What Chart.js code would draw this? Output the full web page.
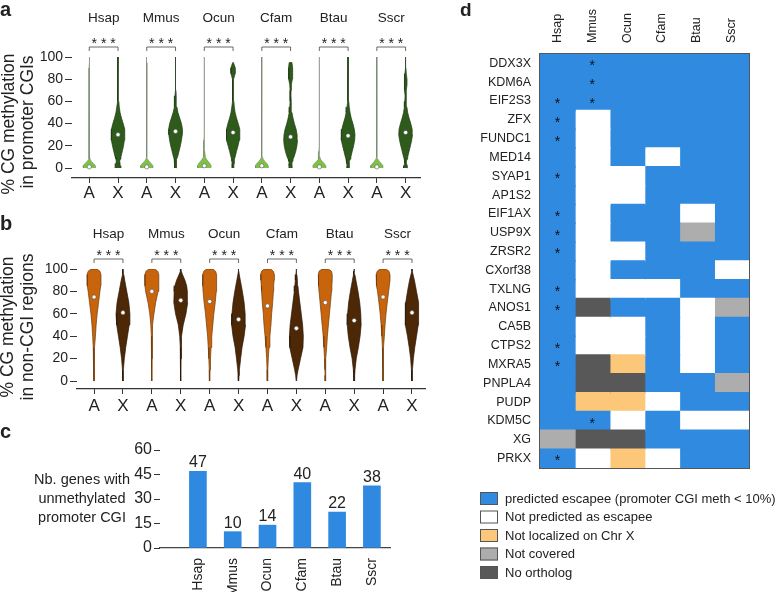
<!DOCTYPE html>
<html>
<head>
<meta charset="utf-8">
<script src="https://cdn.jsdelivr.net/npm/chart.js@4.4.1/dist/chart.umd.min.js"></script>
<style>
  body { margin: 0; background: #fff; }
  #wrap { position: relative; width: 780px; height: 592px; overflow: hidden; }
  canvas { position: absolute; }
</style>
</head>
<body>
<div id="wrap">
  <canvas id="graficoA" width="430" height="205" style="left:0;top:0"></canvas>
  <canvas id="graficoB" width="435" height="215" style="left:0;top:205px"></canvas>
  <canvas id="graficoC" width="400" height="177" style="left:0;top:415px"></canvas>
  <canvas id="graficoD" width="340" height="592" style="left:440px;top:0"></canvas>
</div>
<script>
const species = ['Hsap', 'Mmus', 'Ocun', 'Cfam', 'Btau', 'Sscr'];
const sides = ['A', 'X'];

// panel a - promoter CGIs, relative violin widths at each level
const levelsCGI = [0, 2, 4, 6, 8, 10, 15, 20, 25, 30, 35, 40, 45, 50, 55, 60, 65, 70, 75, 80, 85, 90, 95, 100];
const cgiAutoWidth = [
  [0.85, 0.9, 0.62, 0.3, 0.12, 0.07, 0.05, 0.05, 0.04, 0.04, 0.04, 0.04, 0.04, 0.04, 0.04, 0.04, 0.04, 0.04, 0.04, 0.04, 0.04, 0.04, 0.03, 0.03],
  [0.85, 0.9, 0.65, 0.32, 0.12, 0.06, 0.04, 0.04, 0.04, 0.04, 0.04, 0.04, 0.04, 0.04, 0.04, 0.04, 0.04, 0.04, 0.04, 0.04, 0.04, 0.04, 0.03, 0.03],
  [0.95, 1.0, 0.82, 0.55, 0.32, 0.16, 0.07, 0.05, 0.05, 0.04, 0.04, 0.04, 0.04, 0.04, 0.04, 0.04, 0.04, 0.04, 0.04, 0.04, 0.04, 0.04, 0.03, 0.03],
  [0.9, 0.95, 0.75, 0.42, 0.2, 0.1, 0.05, 0.05, 0.04, 0.04, 0.04, 0.04, 0.04, 0.04, 0.04, 0.04, 0.04, 0.04, 0.04, 0.04, 0.04, 0.04, 0.03, 0.03],
  [0.9, 0.95, 0.72, 0.4, 0.18, 0.08, 0.05, 0.04, 0.04, 0.04, 0.04, 0.04, 0.04, 0.04, 0.04, 0.04, 0.04, 0.04, 0.04, 0.04, 0.04, 0.04, 0.03, 0.03],
  [0.88, 0.9, 0.65, 0.35, 0.15, 0.07, 0.05, 0.04, 0.04, 0.04, 0.04, 0.04, 0.04, 0.04, 0.04, 0.04, 0.04, 0.04, 0.04, 0.04, 0.04, 0.04, 0.03, 0.03]
];
const cgiXWidth = [
  [0.45, 0.4, 0.3, 0.25, 0.3, 0.42, 0.62, 0.8, 0.92, 1.0, 0.95, 0.75, 0.5, 0.3, 0.18, 0.12, 0.08, 0.07, 0.06, 0.05, 0.05, 0.04, 0.04, 0.02],
  [0.1, 0.1, 0.12, 0.15, 0.2, 0.3, 0.5, 0.7, 0.86, 0.97, 1.0, 0.86, 0.6, 0.35, 0.2, 0.12, 0.08, 0.06, 0.05, 0.05, 0.04, 0.04, 0.03, 0.02],
  [0.12, 0.12, 0.14, 0.17, 0.22, 0.3, 0.5, 0.72, 0.9, 1.0, 0.95, 0.75, 0.5, 0.3, 0.18, 0.12, 0.08, 0.06, 0.06, 0.08, 0.3, 0.33, 0.05, null],
  [0.25, 0.22, 0.2, 0.25, 0.35, 0.5, 0.75, 0.92, 1.0, 0.95, 0.8, 0.55, 0.35, 0.2, 0.12, 0.08, 0.06, 0.07, 0.12, 0.25, 0.3, 0.3, 0.2, null],
  [0.15, 0.15, 0.18, 0.22, 0.3, 0.4, 0.6, 0.8, 0.95, 1.0, 0.9, 0.7, 0.45, 0.28, 0.16, 0.1, 0.07, 0.06, 0.05, 0.05, 0.04, 0.04, 0.03, 0.02],
  [0.3, 0.25, 0.12, 0.12, 0.2, 0.3, 0.5, 0.7, 0.88, 1.0, 0.95, 0.75, 0.5, 0.3, 0.18, 0.12, 0.08, 0.1, 0.2, 0.2, 0.1, 0.05, 0.04, 0.02]
];
const cgiAutoMedian = [1, 1, 2, 2, 1, 1];
const cgiXMedian = [30, 33, 32, 28, 29, 32];

// panel b - non-CGI regions
const levelsNonCGI = [0, 5, 10, 20, 30, 40, 50, 60, 70, 80, 85, 90, 95, 98, 100];
const nonCgiAutoWidth = [
  [0.02, 0.03, 0.04, 0.07, 0.12, 0.2, 0.3, 0.45, 0.65, 0.85, 0.95, 1.0, 1.0, 0.85, 0.4],
  [0.02, 0.02, 0.02, 0.03, 0.05, 0.08, 0.15, 0.3, 0.55, 0.9, 1.0, 1.0, 1.0, 0.85, 0.4],
  [0.03, 0.04, 0.06, 0.12, 0.2, 0.3, 0.45, 0.6, 0.8, 0.95, 1.0, 1.0, 1.0, 0.85, 0.45],
  [0.03, 0.04, 0.06, 0.12, 0.22, 0.35, 0.5, 0.6, 0.75, 0.85, 0.9, 0.95, 1.0, 0.85, 0.45],
  [0.03, 0.04, 0.05, 0.1, 0.2, 0.3, 0.45, 0.6, 0.75, 0.9, 0.95, 1.0, 1.0, 0.9, 0.45],
  [0.03, 0.03, 0.04, 0.06, 0.1, 0.18, 0.28, 0.42, 0.6, 0.8, 0.9, 1.0, 1.0, 0.85, 0.45]
];
const nonCgiXWidth = [
  [0.03, 0.05, 0.07, 0.2, 0.4, 0.65, 0.9, 1.0, 0.85, 0.55, 0.4, 0.25, 0.12, 0.05, 0.0],
  [0.02, 0.02, 0.02, 0.04, 0.07, 0.15, 0.35, 0.75, 1.0, 0.95, 0.85, 0.6, 0.25, 0.08, 0.02],
  [0.03, 0.07, 0.12, 0.3, 0.5, 0.8, 1.0, 0.95, 0.8, 0.55, 0.4, 0.25, 0.1, 0.04, 0.0],
  [0.03, 0.1, 0.25, 0.6, 0.95, 1.0, 0.9, 0.7, 0.5, 0.3, 0.22, 0.15, 0.07, 0.03, 0.0],
  [0.03, 0.07, 0.12, 0.3, 0.6, 0.85, 1.0, 0.95, 0.8, 0.55, 0.4, 0.25, 0.1, 0.04, 0.0],
  [0.03, 0.05, 0.08, 0.2, 0.4, 0.65, 0.9, 1.0, 0.9, 0.65, 0.5, 0.35, 0.15, 0.05, 0.0]
];
const nonCgiAutoMedian = [75, 80, 71, 67, 70, 75];
const nonCgiXMedian = [61, 72, 55, 47, 54, 61];

const yTicksMeth = [0, 20, 40, 60, 80, 100];

// panel c
const genesUnmeth = [47, 10, 14, 40, 22, 38];
const yTicksGenes = [0, 15, 30, 45, 60];

// panel d
const genes = ['DDX3X', 'KDM6A', 'EIF2S3', 'ZFX', 'FUNDC1', 'MED14', 'SYAP1', 'AP1S2', 'EIF1AX', 'USP9X', 'ZRSR2',
  'CXorf38', 'TXLNG', 'ANOS1', 'CA5B', 'CTPS2', 'MXRA5', 'PNPLA4', 'PUDP', 'KDM5C', 'XG', 'PRKX'];
// E escapee, N not predicted, L not localized on X, C not covered, O no ortholog
const statusHsap = ['E','E','E','E','E','E','E','E','E','E','E','E','E','E','E','E','E','E','E','E','C','E'];
const statusMmus = ['E','E','E','N','N','N','N','N','N','N','N','N','N','O','N','N','O','O','L','E','O','N'];
const statusOcun = ['E','E','E','E','E','E','N','N','E','E','N','E','N','E','N','N','L','O','L','N','O','L'];
const statusCfam = ['E','E','E','E','E','N','E','E','E','E','E','E','N','E','E','E','E','E','N','E','E','N'];
const statusBtau = ['E','E','E','E','E','E','E','E','N','C','E','E','E','N','N','N','N','E','E','N','E','E'];
const statusSscr = ['E','E','E','E','E','E','E','E','E','E','E','N','E','C','E','E','E','C','E','N','E','E'];
const starsHsap = ['EIF2S3', 'ZFX', 'FUNDC1', 'SYAP1', 'EIF1AX', 'USP9X', 'ZRSR2', 'TXLNG', 'ANOS1', 'CTPS2', 'MXRA5', 'PRKX'];
const starsMmus = ['DDX3X', 'KDM6A', 'EIF2S3', 'KDM5C'];
const legendCodes = ['E', 'N', 'L', 'C', 'O'];
const legendLabels = ['predicted escapee (promoter CGI meth < 10%)', 'Not predicted as escapee',
  'Not localized on Chr X', 'Not covered', 'No ortholog'];

const FONTE = '"Liberation Sans", Arial, Helvetica, sans-serif';
Chart.defaults.font.family = FONTE;
Chart.defaults.color = '#222';

const statusColors = { E: '#2f8ae0', N: '#ffffff', L: '#fcc778', C: '#adadad', O: '#585858' };

// free text (titles, panel letters)
const textos = {
  id: 'textos',
  afterDraw(chart, args, opts) {
    const ctx = chart.ctx;
    (opts.items || []).forEach(it => {
      ctx.save();
      ctx.font = (it.bold ? 'bold ' : '') + it.size + 'px ' + FONTE;
      ctx.fillStyle = '#222';
      ctx.textAlign = it.align || 'center';
      ctx.textBaseline = 'middle';
      ctx.translate(it.x, it.y);
      if (it.rot) ctx.rotate(it.rot * Math.PI / 180);
      ctx.fillText(it.t, 0, 0);
      ctx.restore();
    });
  }
};

// species names, brackets and *** above each pair
const colchetes = {
  id: 'colchetes',
  afterDraw(chart, args, opts) {
    const { ctx, chartArea } = chart;
    const xs = chart.scales.x;
    species.forEach((s, g) => {
      const x1 = xs.getPixelForValue(2 * g);
      const x2 = xs.getPixelForValue(2 * g + 1);
      const yb = chartArea.top - opts.gap;
      ctx.save();
      ctx.strokeStyle = '#444';
      ctx.lineWidth = 0.8;
      ctx.beginPath();
      ctx.moveTo(x1, yb + 4);
      ctx.lineTo(x1, yb);
      ctx.lineTo(x2, yb);
      ctx.lineTo(x2, yb + 4);
      ctx.stroke();
      ctx.fillStyle = '#222';
      ctx.textAlign = 'center';
      ctx.textBaseline = 'middle';
      ctx.font = '14px ' + FONTE;
      ctx.fillText('* * *', (x1 + x2) / 2, yb - 3);
      ctx.font = '13.5px ' + FONTE;
      ctx.fillText(s, (x1 + x2) / 2, chartArea.top - opts.nameGap);
      ctx.restore();
    });
  }
};

function contorno(pos, levels, widths, half) {
  const right = [];
  const left = [];
  levels.forEach((lv, i) => {
    if (widths[i] == null) return;
    right.push({ x: pos + widths[i] * half, y: lv });
    left.unshift({ x: pos - widths[i] * half, y: lv });
  });
  return right.concat(left);
}

function montarViolinos(levels, wA, wX, medA, medX, cores) {
  const ds = [];
  const medianas = [];
  species.forEach((s, g) => {
    ds.push({
      data: contorno(2 * g, levels, wA[g], 0.24),
      showLine: true, fill: 'shape', pointRadius: 0, borderWidth: 0.7, tension: 0,
      backgroundColor: cores.a, borderColor: cores.aBorda, order: 1
    });
    ds.push({
      data: contorno(2 * g + 1, levels, wX[g], 0.24),
      showLine: true, fill: 'shape', pointRadius: 0, borderWidth: 0.7, tension: 0,
      backgroundColor: cores.x, borderColor: cores.xBorda, order: 1
    });
    medianas.push({ x: 2 * g, y: medA[g] }, { x: 2 * g + 1, y: medX[g] });
  });
  ds.push({
    data: medianas, showLine: false, pointRadius: 2.1, pointBorderWidth: 0.6,
    pointBackgroundColor: '#ffffff', pointBorderColor: '#555555', order: 0
  });
  return ds;
}

function opcoesViolino(cfg) {
  return {
    responsive: false,
    animation: false,
    events: [],
    layout: { padding: { top: cfg.top, right: 10, left: 0, bottom: 0 } },
    plugins: {
      legend: { display: false },
      tooltip: { enabled: false },
      colchetes: { gap: 10, nameGap: cfg.nameGap },
      textos: { items: cfg.textos }
    },
    scales: {
      x: {
        type: 'linear', min: cfg.xMin, max: cfg.xMax,
        afterFit: (s) => { s.height = cfg.xHeight; },
        afterBuildTicks: (s) => { s.ticks = species.flatMap((sp, g) => [{ value: 2 * g }, { value: 2 * g + 1 }]); },
        ticks: { callback: (v) => sides[v % 2], font: { size: 17 }, padding: cfg.xPad, maxRotation: 0 },
        grid: { drawOnChartArea: false, tickLength: 5, color: '#333' },
        border: { display: true, color: '#333', width: 1.2 }
      },
      y: {
        min: cfg.yMin, max: 100,
        afterFit: (s) => { s.width = cfg.yWidth; },
        afterBuildTicks: (s) => { s.ticks = yTicksMeth.map(v => ({ value: v })); },
        ticks: { font: { size: 14 }, padding: 2 },
        grid: { drawOnChartArea: false, tickLength: 7, color: '#333' },
        border: { display: false }
      }
    }
  };
}

grafico1 = new Chart(document.getElementById('graficoA'), {
  type: 'scatter',
  data: { datasets: montarViolinos(levelsCGI, cgiAutoWidth, cgiXWidth, cgiAutoMedian, cgiXMedian,
    { a: '#7dc243', aBorda: 'rgba(120,130,115,0.8)', x: '#2e5b1c', xBorda: '#1e3b10' }) },
  options: opcoesViolino({
    top: 57, nameGap: 39, xMin: -0.6, xMax: 11.5, xHeight: 27, xPad: 0, yMin: -9, yWidth: 72,
    textos: [
      { t: 'a', x: 0, y: 10, size: 20, bold: true, align: 'left' },
      { t: '% CG methylation', x: 9, y: 124, size: 17.5, rot: -90 },
      { t: 'in promoter CGIs', x: 28, y: 122, size: 17.5, rot: -90 }
    ]
  }),
  plugins: [colchetes, textos]
});

grafico2 = new Chart(document.getElementById('graficoB'), {
  type: 'scatter',
  data: { datasets: montarViolinos(levelsNonCGI, nonCgiAutoWidth, nonCgiXWidth, nonCgiAutoMedian, nonCgiXMedian,
    { a: '#c8650c', aBorda: '#6e3a08', x: '#4d2807', xBorda: '#2a1504' }) },
  options: opcoesViolino({
    top: 64, nameGap: 35, xMin: -0.59, xMax: 11.45, xHeight: 31, xPad: 2, yMin: -7.14, yWidth: 77,
    textos: [
      { t: 'b', x: 0, y: 19, size: 20, bold: true, align: 'left' },
      { t: '% CG methylation', x: 8, y: 122, size: 17.5, rot: -90 },
      { t: 'in non-CGI regions', x: 28, y: 122, size: 17.5, rot: -90 }
    ]
  }),
  plugins: [colchetes, textos]
});

// numbers above the bars
const rotulosBarras = {
  id: 'rotulosBarras',
  afterDatasetsDraw(chart) {
    const ctx = chart.ctx;
    const meta = chart.getDatasetMeta(0);
    ctx.save();
    ctx.font = '16px ' + FONTE;
    ctx.fillStyle = '#222';
    ctx.textAlign = 'center';
    ctx.textBaseline = 'alphabetic';
    meta.data.forEach((bar, i) => ctx.fillText(genesUnmeth[i], bar.x, bar.y - 4));
    ctx.restore();
  }
};

grafico3 = new Chart(document.getElementById('graficoC'), {
  type: 'bar',
  data: {
    datasets: [{
      data: species.map((s, i) => ({ x: i, y: genesUnmeth[i] })),
      backgroundColor: '#2f89e0',
      barThickness: 17
    }]
  },
  options: {
    responsive: false,
    animation: false,
    events: [],
    layout: { padding: { top: 35, right: 10, left: 0, bottom: 0 } },
    plugins: {
      legend: { display: false },
      tooltip: { enabled: false },
      textos: { items: [
        { t: 'c', x: 0, y: 17, size: 20, bold: true, align: 'left' },
        { t: 'Nb. genes with', x: 82, y: 65, size: 14.5 },
        { t: 'unmethylated', x: 82, y: 84, size: 14.5 },
        { t: 'promoter CGI', x: 82, y: 103, size: 14.5 }
      ] }
    },
    scales: {
      x: {
        type: 'linear', min: -1.09, max: 5.52, offset: false,
        afterFit: (s) => { s.height = 44; },
        afterBuildTicks: (s) => { s.ticks = species.map((sp, i) => ({ value: i })); },
        ticks: { callback: (v) => species[v], font: { size: 14 }, padding: 10, minRotation: 90, maxRotation: 90 },
        grid: { display: false, drawTicks: false },
        border: { display: true, color: '#444', width: 1.2 }
      },
      y: {
        min: 0, max: 60,
        afterFit: (s) => { s.width = 160; },
        afterBuildTicks: (s) => { s.ticks = yTicksGenes.map(v => ({ value: v })); },
        ticks: { font: { size: 16 }, padding: 2 },
        grid: { drawOnChartArea: false, tickLength: 6, color: '#333' },
        border: { display: false }
      }
    }
  },
  plugins: [rotulosBarras, textos]
});

const statusTable = [statusHsap, statusMmus, statusOcun, statusCfam, statusBtau, statusSscr];
const starsTable = [starsHsap, starsMmus, [], [], [], []];

// frame, column names, asterisks and legend of the heatmap
const extrasMapa = {
  id: 'extrasMapa',
  afterDatasetsDraw(chart) {
    const { ctx, chartArea } = chart;
    const xs = chart.scales.x;
    const ys = chart.scales.y;
    ctx.save();
    ctx.strokeStyle = '#555';
    ctx.lineWidth = 1;
    ctx.strokeRect(chartArea.left - 0.5, chartArea.top - 0.5, chartArea.width + 1, chartArea.height + 1);

    ctx.fillStyle = '#222';
    ctx.font = '12.5px ' + FONTE;
    ctx.textAlign = 'left';
    ctx.textBaseline = 'middle';
    species.forEach((s, j) => {
      ctx.save();
      ctx.translate(xs.getPixelForValue(j + 0.5), chartArea.top - 11);
      ctx.rotate(-Math.PI / 2);
      ctx.fillText(s, 0, 0);
      ctx.restore();
    });

    ctx.fillStyle = '#111';
    ctx.font = '14px ' + FONTE;
    ctx.textAlign = 'center';
    starsTable.forEach((lista, j) => {
      lista.forEach(g => {
        ctx.fillText('*', xs.getPixelForValue(j + 0.5), ys.getPixelForValue(genes.indexOf(g)) + 3);
      });
    });

    ctx.font = '13px ' + FONTE;
    ctx.textAlign = 'left';
    legendCodes.forEach((c, k) => {
      const y = 492 + k * 18.5;
      ctx.fillStyle = statusColors[c];
      ctx.fillRect(40, y, 18, 13);
      ctx.strokeStyle = '#555';
      ctx.strokeRect(40.5, y + 0.5, 17, 12);
      ctx.fillStyle = '#222';
      ctx.fillText(legendLabels[k], 65, y + 7);
    });
    ctx.restore();
  }
};

grafico4 = new Chart(document.getElementById('graficoD'), {
  type: 'bar',
  data: {
    labels: genes,
    datasets: species.map((s, j) => ({
      label: s,
      data: genes.map(() => 1),
      backgroundColor: statusTable[j].map(c => statusColors[c]),
      borderWidth: 0,
      inflateAmount: 0.8,
      categoryPercentage: 1,
      barPercentage: 1
    }))
  },
  options: {
    indexAxis: 'y',
    responsive: false,
    animation: false,
    events: [],
    layout: { padding: { top: 0, right: 31, left: 0, bottom: 124 } },
    plugins: {
      legend: { display: false },
      tooltip: { enabled: false },
      textos: { items: [{ t: 'd', x: 20, y: 11, size: 19, bold: true, align: 'left' }] }
    },
    scales: {
      x: {
        type: 'linear', stacked: true, min: 0, max: 6, position: 'top',
        afterFit: (s) => { s.height = 54; },
        ticks: { display: false },
        grid: { display: false, drawTicks: false },
        border: { display: false }
      },
      y: {
        stacked: true,
        afterFit: (s) => { s.width = 100; },
        ticks: { font: { size: 12.5 }, padding: 9 },
        grid: { display: false, drawTicks: false },
        border: { display: false }
      }
    }
  },
  plugins: [extrasMapa, textos]
});
</script>
</body>
</html>
